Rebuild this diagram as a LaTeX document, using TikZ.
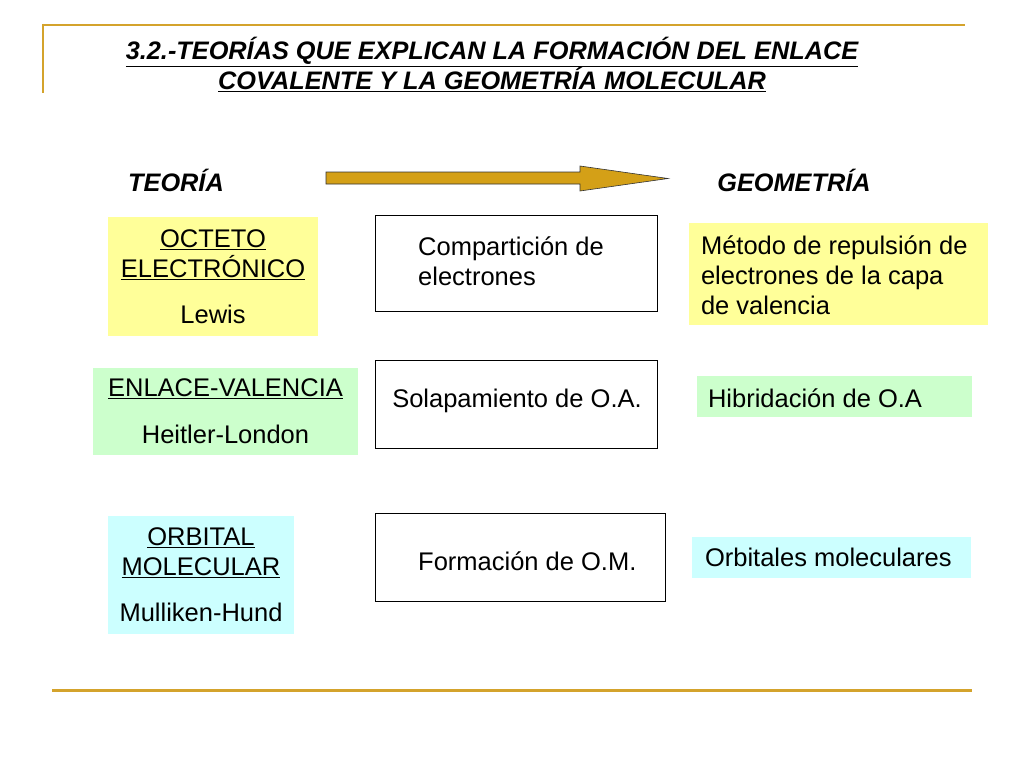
\documentclass[tikz,border=0pt]{standalone}
\usepackage{fontspec}
\setmainfont{Liberation Sans}
\definecolor{gold}{HTML}{D4A32C}
\definecolor{arrowgold}{HTML}{D4A017}
\definecolor{yel}{HTML}{FFFF99}
\definecolor{grn}{HTML}{CCFFCC}
\definecolor{cyn}{HTML}{CCFFFF}
\newcommand\bodyfs{\fontsize{25.5}{30}\selectfont}
\newcommand\titlefs{\fontsize{25.3}{30}\selectfont}
\begin{document}
\begin{tikzpicture}[x=1pt,y=-1pt,
  frame/.style={draw=black,line width=0.9pt,fill=white,inner sep=0pt,outer sep=0pt},
  txt/.style={inner sep=0pt,font=\bodyfs,align=left,anchor=west},
  head/.style={inner sep=0pt,font=\titlefs\bfseries\itshape}
]
\useasboundingbox (0,0) rectangle (1024,768);
\fill[white] (0,0) rectangle (1024,768);
% decorative lines
\draw[gold,line width=2.5pt] (42,25) -- (965,25);
\draw[gold,line width=2.5pt] (43,24) -- (43,93);
\draw[gold,line width=3pt] (52,690) -- (972,690);
% title
\node[inner sep=0pt,align=center,font=\titlefs\bfseries\itshape] (title) at (492,64.5)
  {\underline{3.2.-TEORÍAS QUE EXPLICAN LA FORMACIÓN DEL ENLACE}\\
   \underline{COVALENTE Y LA GEOMETRÍA MOLECULAR}};
% headers
\node[head] (teoria) at (176,180) {TEORÍA};
\node[head] (geom) at (794,180) {GEOMETRÍA};
% arrow
\draw[fill=arrowgold,draw=black!80,line width=0.6pt]
  (326,172) -- (580,172) -- (580,166) -- (668,178.5) -- (580,191) -- (580,184) -- (326,184) -- cycle;
% left column
\node[fill=yel,minimum width=210pt,minimum height=119pt,inner sep=0pt,font=\bodyfs,align=center] (octeto) at (213,276.5)
  {\underline{OCTETO}\\\underline{ELECTRÓNICO}\\[16pt]Lewis};
\node[fill=grn,minimum width=265pt,minimum height=87pt,inner sep=0pt,font=\bodyfs,align=center] (enlace) at (225.5,411.5)
  {\underline{ENLACE-VALENCIA}\\[17pt]Heitler-London};
\node[fill=cyn,minimum width=186pt,minimum height=118pt,inner sep=0pt,font=\bodyfs,align=center] (orbital) at (201,575)
  {\underline{ORBITAL}\\\underline{MOLECULAR}\\[16pt]Mulliken-Hund};
% middle column
\node[frame,minimum width=282pt,minimum height=96pt] (comp) at (516,263) {};
\node[txt] (comptxt) at ([xshift=43pt,yshift=1.5pt]comp.west) {Compartición de\\electrones};
\node[frame,minimum width=282pt,minimum height=88pt] (solap) at (516,404) {};
\node[inner sep=0pt,font=\bodyfs,anchor=base] (solaptxt) at (517,407) {Solapamiento de O.A.};
\node[frame,minimum width=290pt,minimum height=88pt] (form) at (520,557) {};
\node[inner sep=0pt,font=\bodyfs,anchor=base west] (formtxt) at (418,570) {Formación de O.M.};
% right column
\node[fill=yel,minimum width=299pt,minimum height=102pt,inner sep=0pt] (metodo) at (838.5,274) {};
\node[txt] (metodotxt) at ([xshift=12pt,yshift=-1.5pt]metodo.west) {Método de repulsión de\\electrones de la capa\\de valencia};
\node[fill=grn,minimum width=275pt,minimum height=41pt,inner sep=0pt] (hibrid) at (834.5,396.5) {};
\node[txt] (hibridtxt) at ([xshift=11pt,yshift=-1.5pt]hibrid.west) {Hibridación de O.A};
\node[fill=cyn,minimum width=279pt,minimum height=41pt,inner sep=0pt] (orbmol) at (831.5,557.5) {};
\node[txt] (orbmoltxt) at ([xshift=13pt]orbmol.west) {Orbitales moleculares};
\end{tikzpicture}
\end{document}
